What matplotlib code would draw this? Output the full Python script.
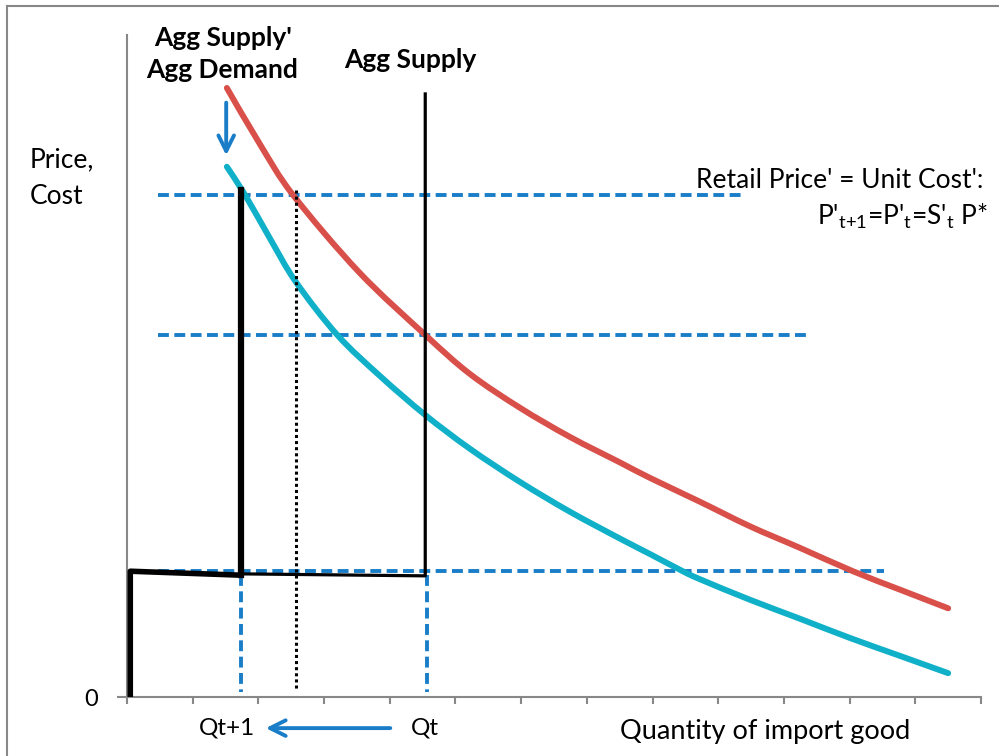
import matplotlib.pyplot as plt
from matplotlib.lines import Line2D
from matplotlib.path import Path
from matplotlib.patches import PathPatch

# demand curves (x = quantity, y = price)
agg_demand_x = [1.52, 2.03, 2.53, 3.53, 4.54, 5.22, 5.98, 6.74, 7.51, 7.96,
                8.72, 9.48, 10.25, 11.05, 11.77, 12.50]
agg_demand_y = [9.20, 8.34, 7.58, 6.42, 5.47, 4.88, 4.37, 3.93, 3.54, 3.31,
                2.95, 2.58, 2.25, 1.90, 1.62, 1.34]

agg_demand2_x = [1.52, 1.80, 2.18, 2.57, 3.20, 3.85, 4.54, 5.22, 5.98,
                 6.74, 7.51, 7.96, 8.46, 8.72, 9.48, 10.25, 11.01, 11.77, 12.50]
agg_demand2_y = [8.01, 7.58, 6.92, 6.27, 5.47, 4.85, 4.26, 3.75, 3.25,
                 2.80, 2.39, 2.16, 1.90, 1.78, 1.47, 1.18, 0.89, 0.62, 0.36]

# horizontal price levels: (y, x end)
price_levels = [(7.58, 9.41), (5.47, 10.40), (1.90, 11.52)]
price_start = 0.47

# supply lines
supply_prime_x = [0.05, 0.05, 1.74]
supply_prime_y = [0.00, 1.90, 1.84]
supply_prime_vx = [1.74, 1.74]
supply_prime_vy = [1.84, 7.66]
supply_x = [1.74, 4.54, 4.54]
supply_y = [1.86, 1.83, 9.11]

dotted_x = [2.57, 2.57]
dotted_y = [7.66, 0.10]

qt1_x, qt_x, q_top = 1.74, 4.57, 1.84

blue = '#1a7dc8'
red = '#d9504a'
cyan = '#0fb0c8'
grey = '#888888'

plt.rcParams['font.family'] = ['Lato', 'DejaVu Sans']
plt.rcParams['mathtext.default'] = 'regular'

W, H = 999, 756
fig = plt.figure(figsize=(W / 100, H / 100), dpi=100)


def px(x, y):
    return x / W, 1 - y / H


def smooth_line(ax, xs, ys, **kw):
    # Excel-style smoothed line: cubic bezier through the points
    pts = list(zip(xs, ys))
    verts = [pts[0]]
    codes = [Path.MOVETO]
    n = len(pts)
    for i in range(n - 1):
        p0 = pts[max(i - 1, 0)]
        p1 = pts[i]
        p2 = pts[i + 1]
        p3 = pts[min(i + 2, n - 1)]
        c1 = (p1[0] + (p2[0] - p0[0]) / 6, p1[1] + (p2[1] - p0[1]) / 6)
        c2 = (p2[0] - (p3[0] - p1[0]) / 6, p2[1] - (p3[1] - p1[1]) / 6)
        verts += [c1, c2, p2]
        codes += [Path.CURVE4] * 3
    ax.add_patch(PathPatch(Path(verts, codes), fill=False, **kw))


ax = fig.add_axes([127 / W, (H - 697) / H, (981 - 127) / W, (697 - 35) / H])
ax.set_xlim(0, 13)
ax.set_ylim(0, 10)
for s in ['top', 'right']:
    ax.spines[s].set_visible(False)
for s in ['left', 'bottom']:
    ax.spines[s].set_color(grey)
    ax.spines[s].set_linewidth(1.5)
ax.set_xticks(range(14))
ax.set_xticklabels([])
ax.set_yticks([0])
ax.set_yticklabels(['0'], fontsize=17)
ax.tick_params(axis='x', length=5, width=1.5, color=grey)
ax.tick_params(axis='y', length=7, width=1.5, color=grey, pad=14)

# dashed price levels
dash = dict(color=blue, lw=2.8, dashes=(2.8, 1.4), zorder=2)
for y, xe in price_levels:
    ax.plot([price_start, xe], [y, y], **dash)
ax.plot([qt1_x, qt1_x], [q_top, 0.08], **dash)
ax.plot([qt_x, qt_x], [q_top, 0.08], **dash)

smooth_line(ax, agg_demand_x, agg_demand_y, edgecolor=red, lw=4.3, capstyle='round', zorder=3)
smooth_line(ax, agg_demand2_x, agg_demand2_y, edgecolor=cyan, lw=4.3, capstyle='round', zorder=3)

ax.plot(supply_prime_x, supply_prime_y, color='black', lw=4, zorder=4)
ax.plot(supply_prime_vx, supply_prime_vy, color='black', lw=4.5, zorder=4)
ax.plot(supply_x, supply_y, color='black', lw=2.3, zorder=4)
ax.plot(dotted_x, dotted_y, color='black', lw=2.2, linestyle=(0, (1, 1)), zorder=4)

# arrows
ax.annotate('', xy=(1.51, 8.14), xytext=(1.51, 9.02),
            arrowprops=dict(arrowstyle='->', color=blue, lw=2.8, mutation_scale=28))
ax.annotate('', xy=(2.07, -0.47), xytext=(4.05, -0.47), annotation_clip=False,
            arrowprops=dict(arrowstyle='->', color=blue, lw=2.8, mutation_scale=28))

# texts
bold = dict(fontsize=19, fontweight='bold', ha='center', va='center')
fig.text(*px(223, 38), "Agg Supply'", **bold)
fig.text(*px(222, 70), "Agg Demand", **bold)
fig.text(*px(410, 60), "Agg Supply", **bold)
fig.text(*px(30, 160), "Price,", fontsize=19, ha='left', va='center')
fig.text(*px(30, 197), "Cost", fontsize=19, ha='left', va='center')
fig.text(*px(227, 728), "Qt+1", fontsize=17.5, ha='center', va='center')
fig.text(*px(425, 728), "Qt", fontsize=17.5, ha='center', va='center')
fig.text(*px(765, 732), "Quantity of import good", fontsize=19.5, ha='center', va='center')
fig.text(*px(983, 180), "Retail Price' = Unit Cost':", fontsize=19, ha='right', va='center')
fig.text(*px(988, 216), "P'$_{t{+}1}$=P'$_t$=S'$_t$ P*", fontsize=19, ha='right', va='center')

# chart border (left and top edges show)
fig.add_artist(Line2D([7 / W, 7 / W], [0, 1 - 6 / H], color=grey, lw=1.5))
fig.add_artist(Line2D([7 / W, 1], [1 - 6 / H, 1 - 6 / H], color=grey, lw=1.5))

fig.savefig('out.png', dpi=100)
